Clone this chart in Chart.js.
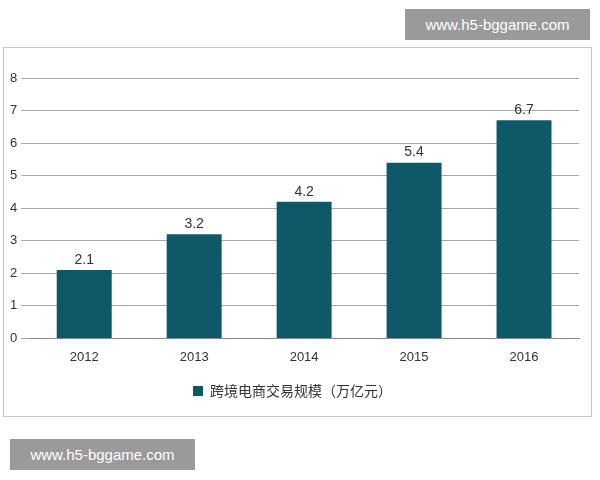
<!DOCTYPE html>
<html><head><meta charset="utf-8">
<script src="https://cdn.jsdelivr.net/npm/chart.js@4/dist/chart.umd.min.js"></script>
<style>
body{margin:0;width:600px;height:480px;background:#fff;position:relative;font-family:"Noto Sans CJK SC",sans-serif;}
.wm{position:absolute;background:#9a9a9a;color:#fff;font:15px "Liberation Sans",sans-serif;line-height:31px;text-align:center;width:185px;height:31px;}
#box{position:absolute;left:3px;top:47px;width:589px;height:370px;border:1px solid #c8c8c8;box-sizing:border-box;}
</style></head><body>
<div class="wm" style="left:405px;top:9px">www.h5-bggame.com</div>
<div class="wm" style="left:10px;top:439px">www.h5-bggame.com</div>
<div id="box"><canvas id="c" width="587" height="368"></canvas></div>
<script>
const years = ['2012', '2013', '2014', '2015', '2016'];
const scale = [2.1, 3.2, 4.2, 5.4, 6.7];
const seriesName = '跨境电商交易规模（万亿元）';

const barLabels = {
    id: 'barLabels',
    afterDatasetsDraw(chart) {
        const ctx = chart.ctx;
        chart.getDatasetMeta(0).data.forEach((bar, i) => {
            ctx.save();
            ctx.fillStyle = '#333';
            ctx.font = '14px "Liberation Sans", sans-serif';
            ctx.textAlign = 'center';
            ctx.fillText(scale[i].toFixed(1), bar.x, bar.y - 10);
            ctx.restore();
        });
    }
};

new Chart(document.getElementById('c'), {
    type: 'bar',
    data: {
        labels: years,
        datasets: [{label: seriesName, data: scale, backgroundColor: '#0f5868', barPercentage: 0.5, categoryPercentage: 1}]
    },
    options: {
        responsive: false,
        animation: false,
        layout: {padding: {left: 2, right: 12, top: 30, bottom: 8}},
        scales: {
            x: {grid: {display: false}, border: {color: '#888'},
                ticks: {color: '#333', font: {size: 13, family: 'Liberation Sans'}}},
            y: {min: 0, max: 8, grid: {color: '#aaa'}, border: {display: false},
                ticks: {stepSize: 1, padding: 4, color: '#333', font: {size: 13, family: 'Liberation Sans'}}}
        },
        plugins: {
            legend: {position: 'bottom', labels: {boxWidth: 10, boxHeight: 10, color: '#333',
                font: {size: 14, family: 'Noto Sans CJK SC'}, padding: 16}},
            tooltip: {enabled: false}
        }
    },
    plugins: [barLabels]
});
</script>
</body></html>
